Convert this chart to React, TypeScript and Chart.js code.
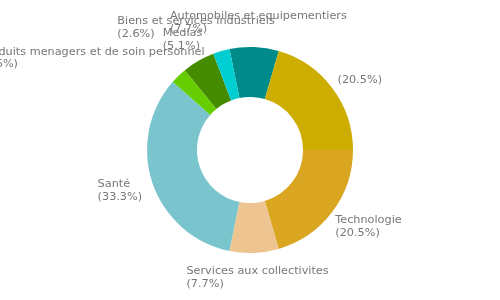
import React, { useEffect, useRef } from "react";
import { Chart, registerables } from "chart.js";

Chart.register(...registerables);

const categories = [
  "Automobiles et equipementiers",
  "",
  "Technologie",
  "Services aux collectivites",
  "Santé",
  "Produits menagers et de soin personnel",
  "Medias",
  "Biens et services industriels",
];
const shares = [7.7, 20.5, 20.5, 7.7, 33.3, 2.6, 5.1, 2.6];
const colors = [
  "#008B8B",
  "#CDAD00",
  "#DAA520",
  "#EEC591",
  "#7AC5CD",
  "#66CD00",
  "#458B00",
  "#00CED1",
];

const FONT = "11.25px 'DejaVu Sans', sans-serif";
const LINE_H = 12.5;

const labelPlugin = {
  id: "outerLabels",
  afterDatasetsDraw(chart: any) {
    const ctx = chart.ctx as CanvasRenderingContext2D;
    const meta = chart.getDatasetMeta(0);
    ctx.save();
    ctx.font = FONT;
    ctx.fillStyle = "#777777";
    ctx.textBaseline = "middle";
    ctx.textAlign = "left";
    meta.data.forEach((arc: any, i: number) => {
      const p = arc.getProps(["x", "y", "startAngle", "endAngle", "outerRadius"], true);
      const mid = (p.startAngle + p.endAngle) / 2;
      const R = p.outerRadius + 12;
      const ax = p.x + Math.cos(mid) * R;
      const ay = p.y + Math.sin(mid) * R;
      const lines = [categories[i], "(" + shares[i].toFixed(1) + "%)"];
      const w = Math.max(...lines.map((l) => ctx.measureText(l).width));
      const h = lines.length * LINE_H;
      const sT = Math.cos(mid);
      const cT = -Math.sin(mid);
      const left = ax - w * (0.5 - 0.5 * sT);
      const top = ay - h * (0.5 + 0.5 * cT);
      lines.forEach((l, k) => {
        ctx.fillText(l, left, top + LINE_H * (k + 0.5));
      });
    });
    ctx.restore();
  },
};

export default function App() {
  const ref = useRef<HTMLCanvasElement | null>(null);
  useEffect(() => {
    if (!ref.current) return;
    const chart = new Chart(ref.current, {
      type: "doughnut",
      data: {
        labels: categories,
        datasets: [
          {
            data: shares,
            backgroundColor: colors,
            borderWidth: 0,
          },
        ],
      },
      options: {
        responsive: false,
        animation: false,
        rotation: -11.5,
        cutout: "51.5%",
        layout: { padding: { top: 47, bottom: 47, left: 0, right: 0 } },
        plugins: {
          legend: { display: false },
          tooltip: { enabled: false },
        },
      },
      plugins: [labelPlugin],
    });
    return () => chart.destroy();
  }, []);
  return (
    <div style={{ position: "fixed", left: 0, top: 0, width: 500, height: 300, background: "#fff" }}>
      <canvas ref={ref} width={500} height={300} style={{ width: 500, height: 300 }} />
    </div>
  );
}
